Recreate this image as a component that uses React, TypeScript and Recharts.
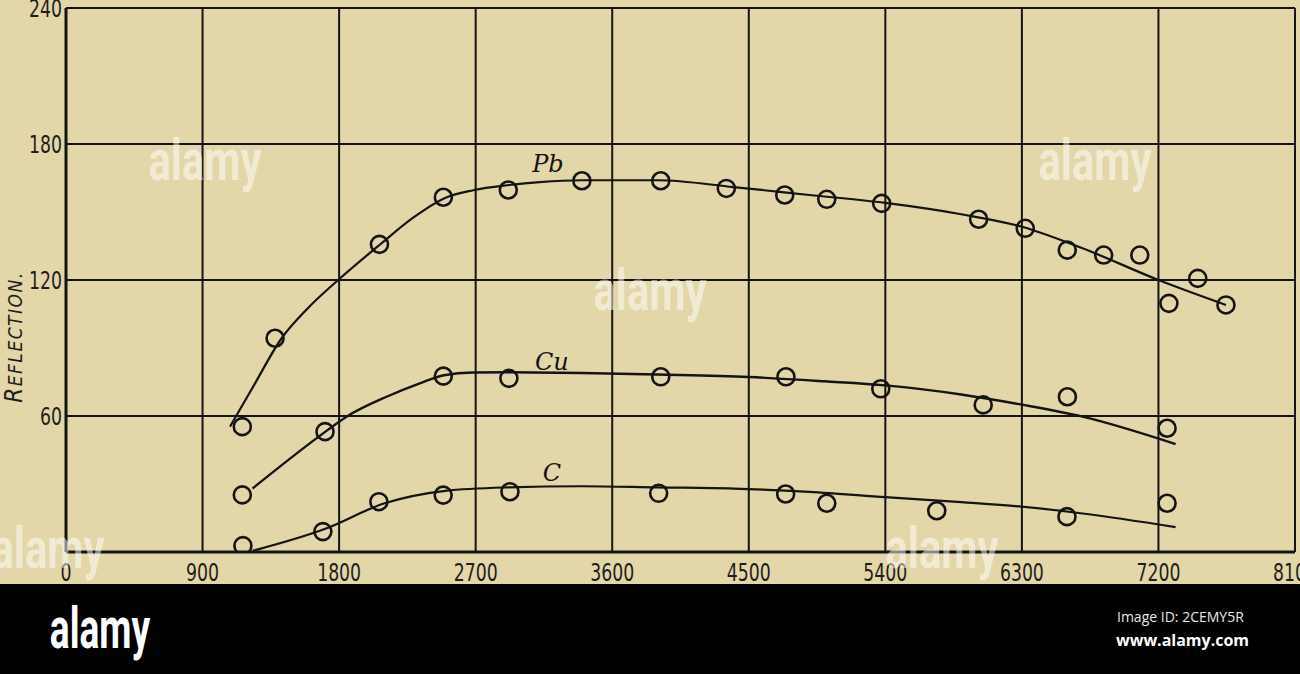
import React from 'react';
import { ComposedChart, Line, Scatter, XAxis, YAxis, CartesianGrid, ReferenceDot } from 'recharts';

// ---- data ----
const xTicks = [0, 900, 1800, 2700, 3600, 4500, 5400, 6300, 7200, 8100];
const yTicks = [60, 120, 180, 240];
const yGrid = [0, 60, 120, 180, 240];

// measured points (circles)
const pbPoints = [
  { x: 1162, y: 55.3 }, { x: 1378, y: 94.3 }, { x: 2066, y: 135.7 }, { x: 2487, y: 156.5 },
  { x: 2915, y: 159.7 }, { x: 3400, y: 163.8 }, { x: 3920, y: 163.8 }, { x: 4352, y: 160.4 },
  { x: 4737, y: 157.5 }, { x: 5014, y: 155.6 }, { x: 5376, y: 153.8 }, { x: 6015, y: 146.8 },
  { x: 6322, y: 142.8 }, { x: 6599, y: 133.2 }, { x: 6839, y: 131 }, { x: 7077, y: 131 },
  { x: 7269, y: 109.7 }, { x: 7459, y: 120.7 }, { x: 7645, y: 109 },
];
const cuPoints = [
  { x: 1162, y: 25.2 }, { x: 1707, y: 53.1 }, { x: 2487, y: 77.6 }, { x: 2919, y: 76.6 },
  { x: 3920, y: 77.3 }, { x: 4745, y: 77.3 }, { x: 5370, y: 72 }, { x: 6045, y: 64.9 },
  { x: 6600, y: 68.5 }, { x: 7257, y: 54.6 },
];
const cPoints = [
  { x: 1166, y: 2.8 }, { x: 1693, y: 9 }, { x: 2062, y: 22.2 }, { x: 2486, y: 25.1 },
  { x: 2926, y: 26.6 }, { x: 3906, y: 25.9 }, { x: 4743, y: 25.6 }, { x: 5014, y: 21.5 },
  { x: 5739, y: 18.2 }, { x: 6597, y: 15.6 }, { x: 7257, y: 21.5 },
];

// drawn smooth curves
const pbCurve = [
  { x: 1081, y: 55.3 }, { x: 1234, y: 73 }, { x: 1421, y: 94.3 }, { x: 1586, y: 107 },
  { x: 1794, y: 120 }, { x: 2076, y: 136 }, { x: 2288, y: 147.5 }, { x: 2491, y: 156 },
  { x: 2684, y: 159.6 }, { x: 2921, y: 161.9 }, { x: 3123, y: 163.2 }, { x: 3400, y: 164 },
  { x: 3900, y: 164 }, { x: 4400, y: 161 }, { x: 4900, y: 157.5 }, { x: 5400, y: 154 },
  { x: 5900, y: 149 }, { x: 6300, y: 143.5 }, { x: 6700, y: 134 }, { x: 7200, y: 120 },
  { x: 7645, y: 109 },
];
const cuCurve = [
  { x: 1229, y: 28 }, { x: 1668, y: 51 }, { x: 1849, y: 59.7 }, { x: 2113, y: 68.5 },
  { x: 2332, y: 74.4 }, { x: 2491, y: 78 }, { x: 2682, y: 79.2 }, { x: 2919, y: 79.3 },
  { x: 3400, y: 79 }, { x: 3900, y: 78.3 }, { x: 4500, y: 77.2 }, { x: 5000, y: 75.3 },
  { x: 5400, y: 73.5 }, { x: 5900, y: 69.5 }, { x: 6300, y: 65 }, { x: 6700, y: 59.7 },
  { x: 7313, y: 47.6 },
];
const cCurve = [
  { x: 1230, y: 0.5 }, { x: 1700, y: 10 }, { x: 2100, y: 21.5 }, { x: 2500, y: 27 },
  { x: 2900, y: 28.5 }, { x: 3400, y: 29 }, { x: 3900, y: 28.5 }, { x: 4400, y: 28 },
  { x: 4900, y: 26.5 }, { x: 5400, y: 24.2 }, { x: 5900, y: 22 }, { x: 6300, y: 20 },
  { x: 6700, y: 17 }, { x: 7313, y: 11 },
];

const seriesLabels = [
  { name: 'Pb', x: 3176, y: 171 },
  { name: 'Cu', x: 3202, y: 84 },
  { name: 'C', x: 3203, y: 35 },
];

const watermarks = [
  { left: 205, top: 160 },
  { left: 1095, top: 160 },
  { left: 650, top: 290 },
  { left: 48, top: 548 },
  { left: 942, top: 548 },
];

const INK = '#141414';
const TEXT = '#1e1e1e';
const PAPER = '#e3d6a8';
const tickFont = '"DejaVu Sans Condensed", "DejaVu Sans", sans-serif';

const circleShape = (p: any) => (
  <circle cx={p.cx} cy={p.cy} r={8.5} fill="none" stroke={INK} strokeWidth={2.6} />
);

const labelShape = (name: string) => (p: any) => (
  <text
    x={p.cx}
    y={p.cy}
    textAnchor="middle"
    dominantBaseline="central"
    fill={INK}
    fontSize={24}
    fontStyle="italic"
    fontFamily='"DejaVu Serif", "Liberation Serif", serif'
  >
    {name}
  </text>
);

const XTick = (p: any) => (
  <text
    transform={`translate(${p.x},${552 + 29}) scale(0.8,1)`}
    textAnchor="middle"
    fill={TEXT}
    fontSize={24}
    fontFamily={tickFont}
  >
    {p.payload.value}
  </text>
);

const YTick = (p: any) => (
  <text
    transform={`translate(${p.x},${p.y + 8.5}) scale(0.8,1)`}
    textAnchor="end"
    fill={TEXT}
    fontSize={24}
    fontFamily={tickFont}
  >
    {p.payload.value}
  </text>
);

const logoBase: React.CSSProperties = {
  position: 'absolute',
  fontFamily: '"Roboto", "Liberation Sans", sans-serif',
  fontWeight: 700,
  fontSize: 58,
  lineHeight: '58px',
  whiteSpace: 'nowrap',
};

export default function App() {
  return (
    <div
      style={{
        position: 'fixed',
        left: 0,
        top: 0,
        width: 1300,
        height: 674,
        overflow: 'hidden',
        background: '#000',
      }}
    >
      <div style={{ position: 'absolute', left: 0, top: 0, width: 1300, height: 584, background: PAPER }} />
      <div style={{ position: 'absolute', left: 0, top: 0 }}>
        <ComposedChart
          width={1300}
          height={596}
          margin={{ top: 8, right: 5, left: 0, bottom: 0 }}
        >
          <CartesianGrid stroke={INK} strokeWidth={2} horizontalValues={yGrid} verticalValues={xTicks} />
          <XAxis
            type="number"
            dataKey="x"
            domain={[0, 8100]}
            ticks={xTicks}
            interval={0}
            allowDataOverflow
            axisLine={{ stroke: INK, strokeWidth: 3 }}
            tickLine={false}
            tickSize={0}
            tickMargin={0}
            height={44}
            tick={<XTick />}
          />
          <YAxis
            type="number"
            dataKey="y"
            domain={[0, 240]}
            ticks={yTicks}
            interval={0}
            allowDataOverflow
            axisLine={{ stroke: INK, strokeWidth: 3 }}
            tickLine={false}
            tickSize={0}
            tickMargin={4}
            width={66}
            tick={<YTick />}
          />
          <Line data={pbCurve} dataKey="y" type="monotone" stroke={INK} strokeWidth={2.2} dot={false} isAnimationActive={false} />
          <Line data={cuCurve} dataKey="y" type="monotone" stroke={INK} strokeWidth={2.4} dot={false} isAnimationActive={false} />
          <Line data={cCurve} dataKey="y" type="monotone" stroke={INK} strokeWidth={2.2} dot={false} isAnimationActive={false} />
          <Scatter data={pbPoints} dataKey="y" shape={circleShape} isAnimationActive={false} />
          <Scatter data={cuPoints} dataKey="y" shape={circleShape} isAnimationActive={false} />
          <Scatter data={cPoints} dataKey="y" shape={circleShape} isAnimationActive={false} />
          {seriesLabels.map((l) => (
            <ReferenceDot key={l.name} x={l.x} y={l.y} r={0} shape={labelShape(l.name)} />
          ))}
        </ComposedChart>
      </div>
      <div
        style={{
          position: 'absolute',
          left: 15,
          top: 337,
          transform: 'translate(-50%, -50%) rotate(-90deg)',
          fontFamily: '"DejaVu Sans Condensed", "DejaVu Sans", sans-serif',
          fontStyle: 'italic',
          color: TEXT,
          whiteSpace: 'nowrap',
          lineHeight: '26px',
          letterSpacing: 1.5,
        }}
      >
        <span style={{ fontSize: 24 }}>R</span>
        <span style={{ fontSize: 19 }}>EFLECTION.</span>
      </div>
      {watermarks.map((w, i) => (
        <div
          key={i}
          style={{
            ...logoBase,
            left: w.left,
            top: w.top,
            color: 'rgba(255,255,255,0.5)',
            transform: 'translate(-50%, -50%) scaleX(0.72)',
          }}
        >
          alamy
        </div>
      ))}
      <div style={{ ...logoBase, left: 100, top: 628, color: '#fff', transform: 'translate(-50%, -50%) scaleX(0.64)' }}>
        alamy
      </div>
      <div
        style={{
          position: 'absolute',
          left: 1117,
          top: 608,
          color: '#e8e8e8',
          fontFamily: '"Open Sans", "Noto Sans", sans-serif',
          fontSize: 14,
          lineHeight: '18px',
          whiteSpace: 'nowrap',
        }}
      >
        Image ID: 2CEMY5R
      </div>
      <div
        style={{
          position: 'absolute',
          left: 1116,
          top: 630,
          color: '#fff',
          fontFamily: '"Open Sans", "Noto Sans", sans-serif',
          fontWeight: 700,
          fontSize: 16,
          lineHeight: '20px',
          whiteSpace: 'nowrap',
        }}
      >
        www.alamy.com
      </div>
    </div>
  );
}
